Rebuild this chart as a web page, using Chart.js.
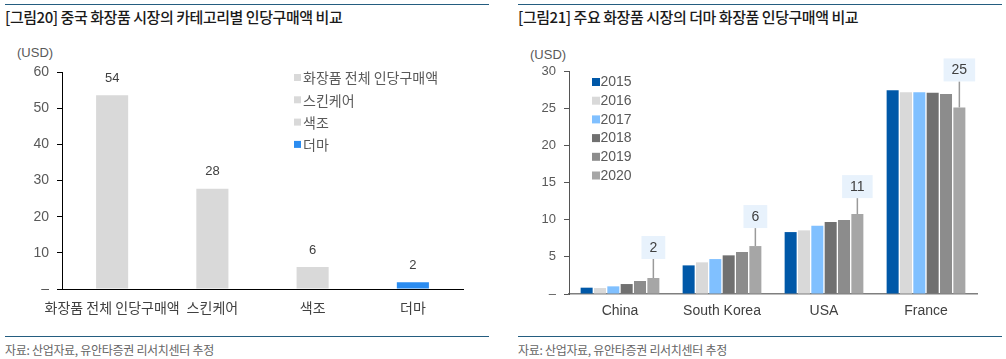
<!DOCTYPE html>
<html><head><meta charset="utf-8">
<script src="https://cdn.jsdelivr.net/npm/chart.js@4/dist/chart.umd.min.js"></script>
<style>
html,body{margin:0;padding:0;background:#fff;}
body{width:1006px;height:359px;position:relative;overflow:hidden;font-family:'Liberation Sans','Noto Sans CJK KR',sans-serif;}
.abs{position:absolute;white-space:nowrap;}
.rule{position:absolute;height:0;border-top:1.5px solid #245d80;}
.title{font-family:'Noto Sans CJK KR',sans-serif;font-size:15px;line-height:20px;color:#1a1a1a;letter-spacing:-0.45px;font-weight:500;}
.src{font-family:'Noto Sans CJK KR',sans-serif;font-size:12px;line-height:16px;color:#666;letter-spacing:-0.3px;}
.usd{font-size:13px;line-height:16px;color:#595959;}
canvas{position:absolute;}
</style></head>
<body>
<div class="rule" style="left:5px;top:4px;width:484px"></div>
<div class="abs title" style="left:5px;top:7px">[그림20] 중국 화장품 시장의 카테고리별 인당구매액 비교</div>
<div class="abs usd" style="left:17px;top:45px">(USD)</div>
<canvas id="c1" width="490" height="280" style="left:0;top:40px;width:490px;height:280px"></canvas>
<div class="rule" style="left:5px;top:336px;width:484px"></div>
<div class="abs src" style="left:5px;top:342px">자료: 산업자료, 유안타증권 리서치센터 추정</div>

<div class="rule" style="left:518px;top:4px;width:484px"></div>
<div class="abs title" style="left:518px;top:7px">[그림21] 주요 화장품 시장의 더마 화장품 인당구매액 비교</div>
<div class="abs usd" style="left:530px;top:47px">(USD)</div>
<canvas id="c2" width="496" height="280" style="left:510px;top:40px;width:496px;height:280px"></canvas>
<div class="rule" style="left:518px;top:336px;width:484px"></div>
<div class="abs src" style="left:518px;top:342px">자료: 산업자료, 유안타증권 리서치센터 추정</div>

<script>
// ---- Data: chart 1 (China, per-category spend per capita)
const categories1 = ['화장품 전체 인당구매액', '스킨케어', '색조', '더마'];
const values1 = [53.6, 27.7, 6.1, 1.9];
const yTicks1 = [0, 10, 20, 30, 40, 50, 60];

// ---- Data: chart 2 (derma cosmetics spend per capita by country)
const countries = ['China', 'South Korea', 'USA', 'France'];
const years = ['2015', '2016', '2017', '2018', '2019', '2020'];
const v2015 = [0.85, 3.85, 8.33, 27.4];
const v2016 = [0.80, 4.26, 8.56, 27.15];
const v2017 = [1.03, 4.70, 9.18, 27.15];
const v2018 = [1.34, 5.20, 9.68, 27.06];
const v2019 = [1.75, 5.65, 9.95, 26.9];
const v2020 = [2.15, 6.45, 10.75, 25.1];
const yTicks2 = [0, 5, 10, 15, 20, 25, 30];

// ---- Styles
const colors1 = ['#d9d9d9', '#d9d9d9', '#d9d9d9', '#2b8cf0'];
const colors2 = ['#0058a8', '#d9d9d9', '#80c0ff', '#707070', '#8c8c8c', '#a6a6a6'];
const calloutGap = [19, 18, 16, 26];
const latin = "'Liberation Sans','Noto Sans CJK KR',sans-serif";
const kor = "'Noto Sans CJK KR',sans-serif";

Chart.defaults.animation = false;
Chart.defaults.font.family = latin;

// value labels + legend for chart 1
const plugin1 = {
  id: 'p1',
  afterDatasetsDraw(chart) {
    const ctx = chart.ctx;
    const meta = chart.getDatasetMeta(0);
    ctx.save();
    ctx.font = '13px ' + latin;
    ctx.fillStyle = '#404040';
    ctx.textAlign = 'center';
    ctx.textBaseline = 'middle';
    meta.data.forEach((el, i) => {
      ctx.fillText(String(Math.round(values1[i])), el.x, el.y - 17);
    });
    // legend
    ctx.font = '14px ' + kor;
    ctx.textAlign = 'left';
    categories1.forEach((c, i) => {
      const y = 37.5 + i * 22.3;
      ctx.fillStyle = colors1[i];
      ctx.fillRect(294, y - 3.5, 7, 7);
      ctx.fillStyle = '#595959';
      ctx.fillText(c, 303, y + 0.5);
    });
    ctx.restore();
  }
};

new Chart(document.getElementById('c1'), {
  type: 'bar',
  data: {
    labels: categories1,
    datasets: [{ data: values1, backgroundColor: colors1, barPercentage: 0.32, categoryPercentage: 1 }]
  },
  options: {
    responsive: false,
    layout: { padding: { left: 0, right: 27, top: 32, bottom: 0 } },
    plugins: { legend: { display: false }, tooltip: { enabled: false } },
    scales: {
      x: {
        grid: { display: false },
        border: { display: true, color: '#000', width: 1 },
        ticks: { font: { size: 14, family: kor }, color: '#404040', padding: 2, maxRotation: 0, autoSkip: false },
        afterFit: s => { s.height = 31; }
      },
      y: {
        min: 0, max: 60,
        afterBuildTicks: s => { s.ticks = yTicks1.map(v => ({ value: v })); },
        grid: { display: true, drawOnChartArea: false, drawTicks: true, tickLength: 5, color: '#000' },
        border: { display: true, color: '#000', width: 1 },
        ticks: { font: { size: 14 }, color: '#595959', padding: 8, callback: v => v === 0 ? '–' : v },
        afterFit: s => { s.width = 62; }
      }
    }
  },
  plugins: [plugin1]
});

// callouts + legend for chart 2
const plugin2 = {
  id: 'p2',
  afterDatasetsDraw(chart) {
    const ctx = chart.ctx;
    const last = chart.data.datasets.length - 1;
    const meta = chart.getDatasetMeta(last);
    const vals = chart.data.datasets[last].data;
    ctx.save();
    ctx.font = '14px ' + latin;
    ctx.textBaseline = 'middle';
    meta.data.forEach((el, i) => {
      const txt = String(Math.round(vals[i]));
      const w = ctx.measureText(txt).width + 16;
      const h = 23;
      const bottom = el.y - calloutGap[i];
      ctx.strokeStyle = '#9a9a9a';
      ctx.lineWidth = 1.5;
      ctx.beginPath();
      ctx.moveTo(el.x, bottom);
      ctx.lineTo(el.x, el.y);
      ctx.stroke();
      ctx.fillStyle = '#e8f2fc';
      ctx.fillRect(el.x - w / 2, bottom - h, w, h);
      ctx.fillStyle = '#404040';
      ctx.textAlign = 'center';
      ctx.fillText(txt, el.x, bottom - h / 2 + 0.5);
    });
    // legend
    ctx.font = '14px ' + latin;
    ctx.textAlign = 'left';
    years.forEach((yr, i) => {
      const y = 42 + i * 18.7;
      ctx.fillStyle = colors2[i];
      ctx.fillRect(82, y - 4, 8, 8);
      ctx.fillStyle = '#595959';
      ctx.fillText(yr, 90.5, y + 0.5);
    });
    ctx.restore();
  }
};

const series2 = [v2015, v2016, v2017, v2018, v2019, v2020];
new Chart(document.getElementById('c2'), {
  type: 'bar',
  data: {
    labels: countries,
    datasets: series2.map((d, i) => ({
      label: years[i], data: d, backgroundColor: colors2[i],
      barPercentage: 0.9, categoryPercentage: 0.785
    }))
  },
  options: {
    responsive: false,
    layout: { padding: { left: 0, right: 29, top: 31, bottom: 0 } },
    plugins: { legend: { display: false }, tooltip: { enabled: false } },
    scales: {
      x: {
        grid: { display: false },
        border: { display: true, color: '#7f7f7f', width: 1.5 },
        ticks: { font: { size: 14 }, color: '#404040', padding: 1, maxRotation: 0, autoSkip: false },
        afterFit: s => { s.height = 26; }
      },
      y: {
        min: 0, max: 30,
        afterBuildTicks: s => { s.ticks = yTicks2.map(v => ({ value: v })); },
        grid: { display: true, drawOnChartArea: false, drawTicks: true, tickLength: 5, color: '#555' },
        border: { display: true, color: '#555', width: 1 },
        ticks: { font: { size: 13 }, color: '#595959', padding: 8, callback: v => v === 0 ? '–' : v },
        afterFit: s => { s.width = 59; }
      }
    }
  },
  plugins: [plugin2]
});
</script>
</body></html>
